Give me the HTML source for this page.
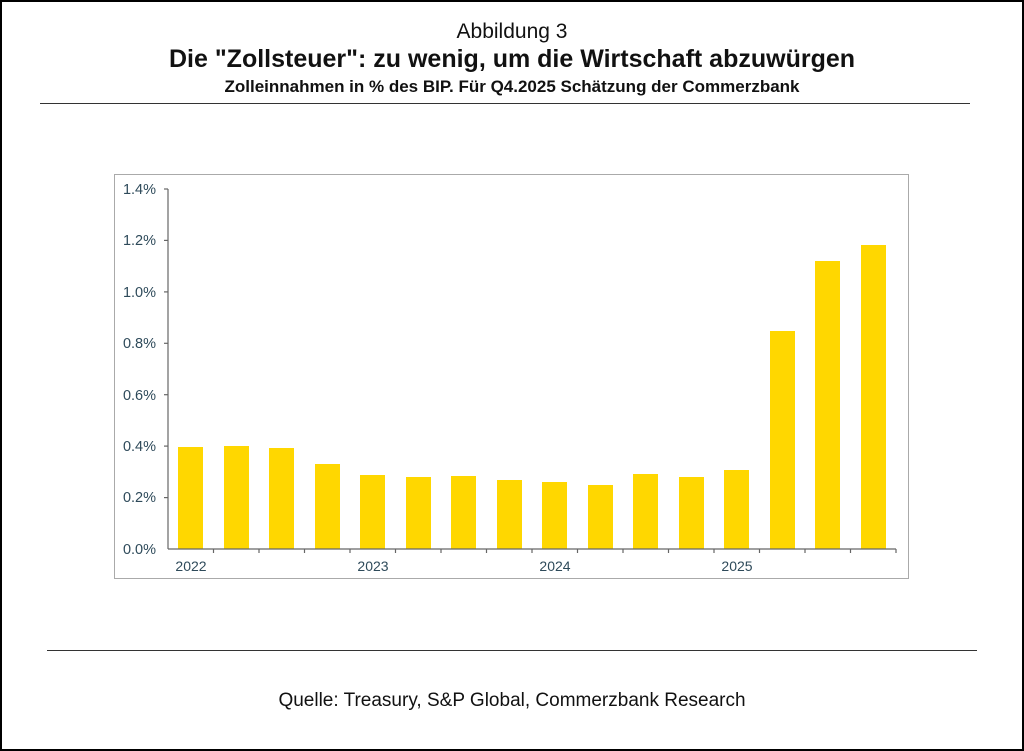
<!DOCTYPE html>
<html><head><meta charset="utf-8"><style>
body{margin:0;background:#fff;}
#c{position:relative;width:1024px;height:751px;box-sizing:border-box;border:2px solid #000;font-family:"Liberation Sans",sans-serif;overflow:hidden;}
.t{position:absolute;left:0;width:1020px;text-align:center;color:#111;}
</style></head><body><div id="c">
<div class="t" style="top:18px;font-size:21px;">Abbildung 3</div>
<div class="t" style="top:43px;font-size:25px;font-weight:bold;">Die "Zollsteuer": zu wenig, um die Wirtschaft abzuwürgen</div>
<div class="t" style="top:75px;font-size:17px;font-weight:bold;">Zolleinnahmen in % des BIP. Für Q4.2025 Schätzung der Commerzbank</div>
<div style="position:absolute;left:38px;top:101px;width:930px;height:1px;background:#333"></div>
<div style="position:absolute;left:45px;top:648px;width:930px;height:1px;background:#333"></div>
<div class="t" style="top:688px;font-size:19px;">Quelle: Treasury, S&amp;P Global, Commerzbank Research</div>
<svg style="position:absolute;left:-2px;top:-2px" width="1024" height="751" font-family="Liberation Sans, sans-serif">
<rect x="114.5" y="174.5" width="794" height="404" fill="none" stroke="#aaa"/>
<g fill="#ffd700">
<rect x="178" y="447" width="25" height="102"/>
<rect x="224" y="446" width="25" height="103"/>
<rect x="269" y="448" width="25" height="101"/>
<rect x="315" y="464" width="25" height="85"/>
<rect x="360" y="475" width="25" height="74"/>
<rect x="406" y="477" width="25" height="72"/>
<rect x="451" y="476" width="25" height="73"/>
<rect x="497" y="480" width="25" height="69"/>
<rect x="542" y="482" width="25" height="67"/>
<rect x="588" y="485" width="25" height="64"/>
<rect x="633" y="474" width="25" height="75"/>
<rect x="679" y="477" width="25" height="72"/>
<rect x="724" y="470" width="25" height="79"/>
<rect x="770" y="331" width="25" height="218"/>
<rect x="815" y="261" width="25" height="288"/>
<rect x="861" y="245" width="25" height="304"/>
</g>
<g stroke="#666" stroke-width="1.2">
<line x1="168" y1="189" x2="168" y2="549"/>
<line x1="168" y1="549" x2="896" y2="549"/>
<line x1="164" y1="189" x2="168" y2="189"/><line x1="164" y1="240.4" x2="168" y2="240.4"/>
<line x1="164" y1="291.9" x2="168" y2="291.9"/><line x1="164" y1="343.3" x2="168" y2="343.3"/>
<line x1="164" y1="394.7" x2="168" y2="394.7"/><line x1="164" y1="446.1" x2="168" y2="446.1"/>
<line x1="164" y1="497.6" x2="168" y2="497.6"/>
<path d="M213.5 549v4M259 549v4M304.5 549v4M350 549v4M395.5 549v4M441 549v4M486.5 549v4M532 549v4M577.5 549v4M623 549v4M668.5 549v4M714 549v4M759.5 549v4M805 549v4M850.5 549v4M896 549v4"/>
</g>
<g fill="#2e4a5a" font-size="14.5" text-anchor="end">
<text x="156" y="194">1.4%</text><text x="156" y="245">1.2%</text><text x="156" y="297">1.0%</text>
<text x="156" y="348">0.8%</text><text x="156" y="400">0.6%</text><text x="156" y="451">0.4%</text>
<text x="156" y="502">0.2%</text><text x="156" y="554">0.0%</text>
</g>
<g fill="#2e4a5a" font-size="14" text-anchor="middle">
<text x="191" y="571">2022</text><text x="373" y="571">2023</text><text x="555" y="571">2024</text><text x="737" y="571">2025</text>
</g>
</svg>
</div></body></html>
